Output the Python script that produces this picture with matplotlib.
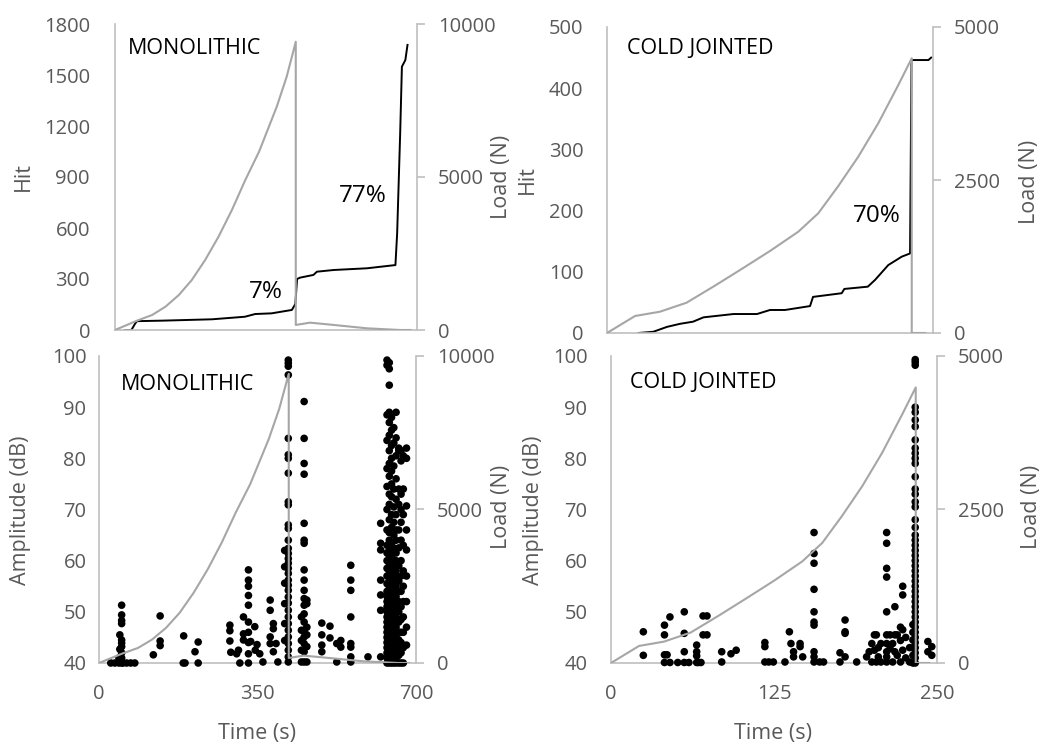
import matplotlib
matplotlib.use("Agg")
import matplotlib.pyplot as plt

plt.rcParams['font.family'] = ['Open Sans', 'DejaVu Sans']

# ---- MONOLITHIC: load (N) and cumulative hits vs time (s)
mono_load_t = [0, 51, 86, 117, 148, 178, 209, 240, 271, 302, 334, 375, 398, 419,
               419, 452, 507, 584, 661, 685]
mono_load = [0, 305, 490, 762, 1144, 1634, 2288, 3050, 3922, 4902, 5830, 7300, 8280, 9420,
             165, 240, 165, 55, 0, 0]
mono_hit_t = [23, 38, 47, 51, 110, 225, 301, 325, 363, 410, 418, 422, 429,
              460, 468, 507, 584, 650, 654, 661, 665, 673, 678]
mono_hit = [0, 0, 39, 52, 55, 63, 78, 94, 98, 118, 153, 300, 308,
            324, 343, 353, 363, 382, 569, 1157, 1549, 1588, 1677]

# ---- COLD JOINTED
cold_load_t = [0, 21.5, 40.6, 61, 81.5, 102, 125, 146.7, 162, 177, 192.7, 208, 223.4,
               233.7, 233.7, 244]
cold_load = [0, 278, 348, 495, 757, 1029, 1340, 1655, 1956, 2390, 2881, 3426, 4052,
             4489, 0, 0]
cold_hit_t = [24, 35.5, 46, 56, 66, 74, 97, 115, 125, 136.5, 155.7, 158, 180, 182,
              200, 205.5, 215.7, 226, 232.4, 233.5, 246.5, 248.6]
cold_hit = [0, 2, 10, 15, 18.5, 25.6, 31, 31, 37.6, 37.6, 44, 59, 65, 72,
            75.7, 86.6, 111, 124.7, 130, 446, 446, 450]

# ---- amplitude hits, grouped as (time, [amplitudes])
mono_amp_groups = [
    (26, [40]), (35, [40]), (44, [40, 41]), (46, [45.5, 42.7, 40.6]),
    (50, [51.3, 49.4, 48.3, 47.7, 44.5, 43.9, 43.2, 42, 41, 40]),
    (53, [40]), (61, [40]), (70, [40]), (79, [40]),
    (120, [41.6]), (135, [49.2, 44.3, 43.4]),
    (186, [40]), (187, [45.3]), (190, [40]), (212, [42.2]), (219, [44.1, 40]),
    (289, [47.4, 46.3, 44.3]), (291, [42.1]), (304, [41.8]), (308, [42.5]), (311, [40]),
    (319, [49, 45.7, 44.5]), (330, [58.2, 56.2, 55, 53.2, 51.3, 48, 46, 44, 41.8, 40]),
    (335, [44.2]), (345, [42.5]), (344, [47.1]), (349, [43.6]), (355, [41.8]), (362, [40.2]),
    (378, [52.3, 50.3, 45.1, 43.8]), (385, [42.2, 46.7, 47.7]), (391, [43.8]), (395, [40.2]),
    (410, [62, 58.8, 55.6, 51.6, 47.7, 44.4]),
    (418, [99.2, 98.6, 98.0, 96.3, 83.9, 80.7, 80.0, 77.1, 71.5, 70.9, 67.0, 66.3, 64.0,
           62.4, 61.4, 60.4, 59.5, 58.5, 57.5, 56.2, 55.2, 54.2, 52.9, 51.7, 50.3, 49.0,
           47.7, 46.4, 45.1, 43.8, 42.5, 41.2, 40.2]),
    (447, [49, 46.4, 44.4, 42.5, 40.2]),
    (453, [91.1, 83.9, 79.0, 76.9, 67.3, 64.0, 63.4, 58.2, 56.2, 54.2, 52.6, 51.3, 49.6,
           48, 46.4, 45.1, 43.8, 42.2, 40.2]),
    (459, [52.3, 51.6, 47, 45.5, 43.2, 40.2]),
    (492, [47.8, 45.5, 43.5, 42.2]), (510, [47.2, 44.9]), (525, [43.8, 40.2]),
    (534, [44.4, 43.1]),
    (556, [59.1, 56.2, 54.2, 49, 43.8, 43.1, 41.2, 40.2]),
    (594, [41.2]), (622, [67.3, 63.4, 62.1, 56.2, 53.3, 50.3, 41.2]),
    (636, [40, 41, 42, 43, 44, 45, 46, 47, 48, 49, 50, 51, 52, 53, 54, 55.5, 57, 58.5,
           60, 61.5, 63, 66, 70, 74.5, 78, 83.5, 88.5, 98.2, 99.2]),
    (641, [40, 41, 42, 43, 44, 45, 46, 47, 48, 49, 50, 51, 52, 53, 54, 55, 56, 57, 58,
           59, 60, 61, 62, 64, 65.5, 68, 71, 73, 76.5, 79, 81.5, 84.5, 87, 89, 94.3,
           97.5, 98.7]),
    (646, [40, 41, 42, 43, 44, 45, 46, 47, 48, 49, 50, 51, 52, 53, 54, 55, 56, 57, 58,
           59, 60, 61, 62, 63.5, 66.5, 69, 72.5, 75, 77.5, 80, 82.5, 85.5, 88]),
    (651, [40, 41, 42, 43, 44, 45, 46, 47, 48, 49, 50, 51, 52, 53, 54, 55, 56, 57, 58,
           59, 60, 62.5, 65, 67.5, 70.5, 74, 78.5, 83, 86]),
    (656, [40, 41, 42, 43, 44, 45, 46, 47, 48, 49, 50, 51, 52, 53, 54, 55, 56, 57, 58,
           60, 61.5, 64, 66, 69, 72, 76, 80.5, 84, 89]),
    (662, [40, 41.5, 43, 44.5, 46, 48, 50, 52, 54, 56, 59, 62.5, 66, 71, 74, 81.5, 82]),
    (667, [40, 42, 44, 46, 48.5, 51, 54, 57, 60, 64, 67.5, 70, 73, 79.5, 81.5]),
    (672, [40, 43, 46, 49, 52, 55, 58, 63, 69, 74, 80.5]),
    (679, [82, 80, 70.7, 66, 62.1, 57, 52, 47, 43.5]),
]

cold_amp_groups = [
    (24.8, [46.1, 41.5]), (41, [47.4, 45.5, 41.6, 40.1]), (43, [41.6]),
    (45.2, [49.0, 40.1]), (51.2, [40.1]), (56.2, [50.0, 45.8, 42.2, 40.1]),
    (59.7, [40.1]), (65.7, [43.5, 42.2, 41.4, 40.1]), (67, [40.1]), (69, [40.1]),
    (70.6, [49.2, 45.5]), (73.6, [49.2, 45.5]), (84.9, [42.2, 40.2]),
    (92, [41.8]), (96, [42.5]), (118, [44, 43.2, 40.2]), (121, [40.2]), (124.5, [40.2]),
    (133.4, [40.2]), (136.8, [46.1]), (138, [43.8]), (140, [42.2, 41.2]), (145, [43.8, 43.2]),
    (147, [41.2]),
    (155.7, [65.5, 61.4, 59.5, 54.4, 50, 48, 47.4, 42.2, 41.2, 40.2]),
    (160, [40.2]), (163, [40.2]), (175.6, [40.2, 42]), (179.5, [48.4, 46.1, 45.8, 41.2]),
    (188.4, [40.2]), (196, [41.2]), (198, [42.2]), (200, [43.8, 40.2]), (202, [45.5, 42.5]),
    (203.5, [45.5, 40.2]), (205, [41.2, 43.0]), (207, [43.8, 40.2]),
    (211.4, [65.5, 63.4, 58.5, 56.8, 50, 45.5, 43.8, 42.2, 41.2, 40.2]),
    (214, [45.5, 42.8]), (216, [43.8, 40.2]), (217.7, [51, 45.5, 42.2]),
    (219.5, [45.5, 41.5]), (222, [47, 44.4, 40.2]), (223.7, [55, 53.3, 46.5, 42.5]),
    (226, [45, 41]), (229, [43, 40.2]),
    (231.5, [40, 41.5, 43, 44.5, 46, 47.5]),
    (233.3, [40, 41, 42, 43, 44, 45, 46, 47, 48, 49, 50, 51, 52, 53, 54, 55, 56, 57, 58,
             59, 60, 61, 62, 63, 64, 65, 66.5, 68, 70.5, 71.5, 73, 74, 76.4, 79, 80, 81,
             82, 83.6, 86.2, 87.5, 89, 90, 98.2, 98.8, 99.3]),
    (243, [44.2, 42.2]), (246, [43.2, 41.5]),
]

GRID = '#bfbfbf'
TXT = '#595959'
LOADC = '#a6a6a6'
TICK_FS = 14.5
TITLE_FS = 15.5
W, H = 1043, 745

fig = plt.figure(figsize=(W / 100, H / 100), dpi=100)


def rect(l, t, r, b):
    return [l / W, 1 - b / H, (r - l) / W, (b - t) / H]


def ftext(x, y, s, **kw):
    fig.text(x / W, 1 - y / H, s, **kw)


def style(ax, ax2, left_pad, show_x):
    for a in (ax, ax2):
        for sp in a.spines.values():
            sp.set_visible(False)
    ax.spines['left'].set_visible(True)
    ax.spines['bottom'].set_visible(True)
    ax2.spines['right'].set_visible(True)
    for sp in (ax.spines['left'], ax.spines['bottom'], ax2.spines['right']):
        sp.set_color(GRID)
        sp.set_linewidth(1.2)
    ax.tick_params(axis='y', length=0, pad=left_pad, labelsize=TICK_FS, labelcolor=TXT)
    ax.tick_params(axis='x', length=0, pad=15, labelsize=TICK_FS, labelcolor=TXT,
                   labelbottom=show_x)
    ax2.tick_params(axis='y', length=6, width=1.2, color=GRID, pad=9,
                    labelsize=TICK_FS, labelcolor=TXT)


def flat(groups):
    xs, ys = [], []
    for t, amps in groups:
        for a in amps:
            xs.append(t)
            ys.append(a)
    return xs, ys


# top-left: MONOLITHIC hits
ax = fig.add_axes(rect(115, 24, 417, 330))
ax2 = ax.twinx()
ax.plot(mono_hit_t, mono_hit, color='black', lw=1.4)
ax2.plot(mono_load_t, mono_load, color=LOADC, lw=1.5)
ax.set_xlim(0, 700)
ax.set_ylim(0, 1800)
ax.set_yticks([0, 300, 600, 900, 1200, 1500, 1800])
ax2.set_ylim(0, 10000)
ax2.set_yticks([0, 5000, 10000])
style(ax, ax2, 18, False)

# top-right: COLD JOINTED hits
ax = fig.add_axes(rect(607, 27, 933, 333))
ax2 = ax.twinx()
ax.plot(cold_hit_t, cold_hit, color='black', lw=1.4)
ax2.plot(cold_load_t, cold_load, color=LOADC, lw=1.5)
ax.set_xlim(0, 250)
ax.set_ylim(0, 500)
ax.set_yticks([0, 100, 200, 300, 400, 500])
ax2.set_ylim(0, 5000)
ax2.set_yticks([0, 2500, 5000])
style(ax, ax2, 17, False)

# bottom-left: MONOLITHIC amplitude
ax = fig.add_axes(rect(99, 356, 416, 663))
ax2 = ax.twinx()
xs, ys = flat(mono_amp_groups)
ax.scatter(xs, ys, s=30, color='black', edgecolors='none', clip_on=False, zorder=3)
ax2.plot(mono_load_t, mono_load, color=LOADC, lw=1.5)
ax.set_xlim(0, 700)
ax.set_xticks([0, 350, 700])
ax.set_ylim(40, 100)
ax.set_yticks([40, 50, 60, 70, 80, 90, 100])
ax2.set_ylim(0, 10000)
ax2.set_yticks([0, 5000, 10000])
style(ax, ax2, 9, True)

# bottom-right: COLD JOINTED amplitude
ax = fig.add_axes(rect(611, 356, 937, 663))
ax2 = ax.twinx()
xs, ys = flat(cold_amp_groups)
ax.scatter(xs, ys, s=30, color='black', edgecolors='none', clip_on=False, zorder=3)
ax2.plot(cold_load_t, cold_load, color=LOADC, lw=1.5)
ax.set_xlim(0, 250)
ax.set_xticks([0, 125, 250])
ax.set_ylim(40, 100)
ax.set_yticks([40, 50, 60, 70, 80, 90, 100])
ax2.set_ylim(0, 5000)
ax2.set_yticks([0, 2500, 5000])
style(ax, ax2, 17, True)

# axis titles
lab = dict(color=TXT, fontsize=TITLE_FS, rotation=90, ha='center', va='center')
ftext(23, 177, 'Hit', **lab)
ftext(502, 177, 'Load (N)', **lab)
ftext(527, 180, 'Hit', **lab)
ftext(1030, 182, 'Load (N)', **lab)
ftext(21, 510, 'Amplitude (dB)', **lab)
ftext(502, 507, 'Load (N)', **lab)
ftext(533, 510, 'Amplitude (dB)', **lab)
ftext(1032, 507, 'Load (N)', **lab)
ftext(257, 733, 'Time (s)', color=TXT, fontsize=TITLE_FS, ha='center', va='center')
ftext(773, 733, 'Time (s)', color=TXT, fontsize=TITLE_FS, ha='center', va='center')

# panel names and percentages
name = dict(color='black', fontsize=15.5, ha='left', va='center')
ftext(128, 49, 'MONOLITHIC', **name)
ftext(627, 49, 'COLD JOINTED', **name)
ftext(121, 384, 'MONOLITHIC', **name)
ftext(630, 383, 'COLD JOINTED', **name)
pct = dict(color='black', fontsize=17.5, ha='center', va='center')
ftext(266, 292, '7%', **pct)
ftext(363, 196, '77%', **pct)
ftext(877, 216, '70%', **pct)

fig.savefig('out.png', dpi=100, facecolor='white')
